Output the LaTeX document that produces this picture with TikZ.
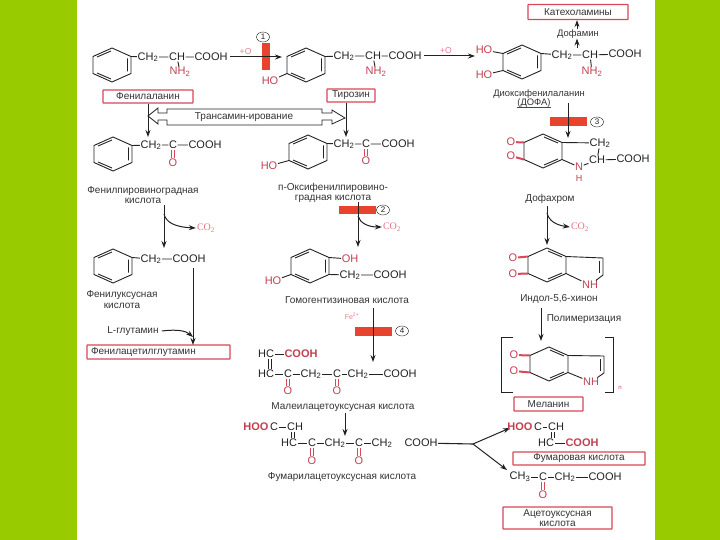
\documentclass[tikz,border=0pt]{standalone}
\usepackage{fontspec}
\setmainfont{Liberation Sans}
\newfontfamily\serifco{Liberation Serif}
\usepackage{xcolor}
\usetikzlibrary{arrows.meta, shapes.geometric}
\definecolor{ink}{HTML}{222222}
\definecolor{lbl}{HTML}{333333}
\definecolor{acc}{HTML}{D8485A}
\definecolor{rbar}{HTML}{E8432E}
\definecolor{leaf}{HTML}{99CC00}
\newcommand{\dblink}[3]{%
  \draw[#1] ([xshift=-1.3pt]#2) -- ([xshift=-1.3pt]#3) ([xshift=1.3pt]#2) -- ([xshift=1.3pt]#3);}
\tikzset{
  chem/.style={font=\fontsize{11}{12}\selectfont, inner sep=0.5pt, text=ink},
  rchem/.style={chem, text=acc!90!black},
  boldr/.style={rchem, font=\bfseries\fontsize{11}{12}\selectfont},
  lab/.style={font=\fontsize{10}{10.5}\selectfont, text=lbl, align=center, inner sep=0pt},
  pbox/.style={lab, draw=acc, line width=1.2pt, rounded corners=0.5pt},
  co/.style={font=\serifco\fontsize{10}{11}\selectfont, text=acc!75, inner sep=1pt},
  redbar/.style={fill=rbar, inner sep=0pt},
  num/.style={ellipse, draw=ink, font=\fontsize{8}{9}\selectfont, inner sep=0pt,
              minimum width=13pt, minimum height=10pt, text=ink},
  bond/.style={draw=ink, line width=0.9pt},
  obond/.style={draw=acc, line width=2pt},
  dbl/.style={draw=ink, line width=0.8pt},
  rdbl/.style={draw=acc, line width=1.1pt},
  arr/.style={draw=ink, line width=1pt, -{Stealth[length=7pt, width=5pt]}},
  benz/.pic={
    \coordinate (-t) at (0,-17); \coordinate (-ur) at (19,-8.5);
    \coordinate (-lr) at (19,8.5); \coordinate (-b) at (0,17);
    \coordinate (-ll) at (-19,8.5); \coordinate (-ul) at (-19,-8.5);
    \draw[bond] (-t) -- (-ur) -- (-lr) -- (-b) -- (-ll) -- (-ul) -- cycle;
    \draw[bond] (-15,-8) -- (-1,-14) (15.5,-6.5) -- (15.5,6.5) (-15,8) -- (-1,14);
  },
  quin/.pic={
    \coordinate (-t) at (0,-17); \coordinate (-ur) at (19,-8.5);
    \coordinate (-lr) at (19,8.5); \coordinate (-b) at (0,17);
    \coordinate (-ll) at (-19,8.5); \coordinate (-ul) at (-19,-8.5);
    \draw[bond] (-t) -- (-ur) -- (-lr) -- (-b) -- (-ll) -- (-ul) -- cycle;
    \draw[bond] (15,-8) -- (1,-14) (15,8) -- (1,14);
  },
}
\begin{document}
\begin{tikzpicture}[x=1pt, y=-1pt]
  \useasboundingbox (0,0) rectangle (720,540);
  \fill[leaf] (0,0) rectangle (720,540);
  \fill[white] (77,0) rectangle (655,540);

  % free ends of the arrows
  \foreach \n/\x/\y in {p1/230/57, p2/282/57, p3/424/56, p4/475/56, d0/577/48,
      t1/148/137, t2/346/103, t3/346/137, e1/164/205, e2/164/248, e3/164/214,
      f1/358/202, f2/358/247, f3/358/216, g1/373/308, g2/373/362, h1/345/413,
      h2/345/436, k0/473/444, k1/510/428, k2/507/470, m1/568/103, m2/568/138,
      n1/547/206, n2/547/245, n3/547/213, q1/541/308, q2/541/341, u1/193/268,
      u2/193/345, u3/193/337, j12/293/432, j13/293/438, l6/553/432, l7/553/438,
      i11/270/359, i12/270/369}
    \coordinate (\n) at (\x,\y);

  % red bars and numbers
  \node[redbar, minimum width=8pt, minimum height=27pt] (bar1) at (266,57) {};
  \node[redbar, minimum width=37pt, minimum height=8pt] (bar2) at (357,210) {};
  \node[redbar, minimum width=37pt, minimum height=9pt] (bar3) at (568,122) {};
  \node[redbar, minimum width=37pt, minimum height=9pt] (bar4) at (373,331) {};
  \node[num] (n1c) at (263,37) {1};
  \node[num] (n2c) at (383,210) {2};
  \node[num] (n3c) at (597,122) {3};
  \node[num] (n4c) at (402,331) {4};

  % phenylalanine
  \pic (r1) at (112,65) {benz};
  \node[chem] (a1) at (148,57) {CH\textsubscript{2}};
  \node[chem] (a2) at (177,57) {CH};
  \node[chem] (a3) at (211,57) {COOH};
  \node[rchem] (a4) at (180,72) {NH\textsubscript{2}};
  \draw[bond] (r1-ur) -- (a1) -- (a2) -- (a3) (a2) -- (a4);
  \node[pbox, minimum width=90pt, minimum height=13pt] (phe) at (148,96.5) {Фенилаланин};
  \draw[arr] (p1) -- node[pos=0.3, above=2pt, lab, text=acc!70, font=\fontsize{8.6}{9}\selectfont] {+O} (p2);

  % tyrosine
  \pic (r2) at (306,65) {benz};
  \node[rchem] (b0) at (270,81) {HO};
  \node[chem] (b1) at (344,56) {CH\textsubscript{2}};
  \node[chem] (b2) at (373,56) {CH};
  \node[chem] (b3) at (405,56) {COOH};
  \node[rchem] (b4) at (376,72) {NH\textsubscript{2}};
  \draw[bond] (b0) -- (r2-ll) (r2-ur) -- (b1) -- (b2) -- (b3) (b2) -- (b4);
  \node[pbox, minimum width=48pt, minimum height=13pt] (tyr) at (351,95.5) {Тирозин};
  \draw[arr] (p3) -- node[pos=0.43, above=2pt, lab, text=acc!70, font=\fontsize{8.6}{9}\selectfont] {+O} (p4);

  % dopa
  \pic (r3) at (522,62) {benz};
  \node[rchem] (c0) at (484,50) {HO};
  \node[rchem] (c5) at (484,75) {HO};
  \node[chem] (c1) at (562,55) {CH\textsubscript{2}};
  \node[chem] (c2) at (590,55) {CH};
  \node[chem] (c3) at (625,54) {COOH};
  \node[rchem] (c4) at (592,72) {NH\textsubscript{2}};
  \draw[bond] (c0) -- (r3-ul) (c5) -- (r3-ll) (r3-ur) -- (c1) -- (c2) -- (c3) (c2) -- (c4);
  \node[lab, font=\fontsize{9.4}{10}\selectfont] (dopa) at (539,94) {Диоксифенилаланин};
  \node[lab, font=\fontsize{9.4}{10}\selectfont] (dopb) at (534,103) {(ДОФА)};
  \draw[draw=acc!60!black, line width=0.6pt] (dopb.south west) -- (dopb.south east);
  \node[lab, font=\fontsize{9.4}{10}\selectfont] (dfm) at (578,34) {Дофамин};
  \node[pbox, minimum width=100pt, minimum height=15pt] (kat) at (578,12) {Катехоламины};
  \draw[arr] (d0) -- (d0 |- dfm.south);
  \draw[arr] (d0 |- dfm.north) -- (d0 |- kat.south);

  % transamination block arrow
  \draw[draw=ink, line width=0.8pt, fill=white] (148,116) -- (158,108) -- (158,113) -- (167,113)
    -- (167,109) -- (322,109) -- (322,113) -- (332,113) -- (332,110) -- (345,118)
    -- (332,124) -- (332,120) -- (322,120) -- (322,125) -- (167,125) -- (167,120)
    -- (158,120) -- (158,124) -- cycle;
  \node[lab] (trans) at (244,117) {Трансамин-ирование};
  \draw[arr] (phe.south) -- (t1);
  \draw[arr] (t2) -- (t3);

  % phenylpyruvate
  \pic (r4) at (113,154) {benz};
  \node[chem] (d1) at (151,145) {CH\textsubscript{2}};
  \node[chem] (d2) at (173,145) {C};
  \node[chem] (d3) at (205,145) {COOH};
  \node[rchem] (d4) at (173,163) {O};
  \draw[bond] (r4-ur) -- (d1) -- (d2) -- (d3);
  \dblink{rdbl}{d2.south}{d4.north}
  \node[lab] (ppk) at (143,195) {Фенилпировиноградная\\кислота};

  % hydroxyphenylpyruvate
  \pic (r5) at (308,152) {benz};
  \node[rchem] (e0) at (269,166) {HO};
  \node[chem] (e4a) at (344,144) {CH\textsubscript{2}};
  \node[chem] (e5a) at (366,144) {C};
  \node[chem] (e6a) at (398,144) {COOH};
  \node[rchem] (e7a) at (366,161) {O};
  \draw[bond] (e0) -- (r5-ll) (r5-ur) -- (e4a) -- (e5a) -- (e6a);
  \dblink{rdbl}{e5a.south}{e7a.north}
  \node[lab] (hppk) at (333,193) {п-Оксифенилпировино-\\градная кислота};

  % phenylacetate
  \draw[arr] (e1) -- (e2);
  \node[co] (co1) at (206,228) {CO\textsubscript{2}};
  \draw[arr] (e3) .. controls (166,222) and (174,227) .. (co1.west);
  \pic (r6) at (113,266) {benz};
  \node[chem] (g1a) at (151,259) {CH\textsubscript{2}};
  \node[chem] (g2a) at (189,259) {COOH};
  \draw[bond] (r6-ur) -- (g1a) -- (g2a);
  \node[lab] (pac) at (122,299.5) {Фенилуксусная\\кислота};
  \node[lab] (glu) at (133,331) {L-глутамин};
  \node[pbox, text width=135pt, align=left, minimum height=14pt, inner sep=4pt,
        inner ysep=1pt] (pag) at (158.5,352) {Фенилацетилглутамин};
  \draw[arr] (u1) -- (u2);
  \draw[arr] (glu.east) ++(3,0) .. controls (178,329) and (186,331) .. (u3);

  % homogentisate
  \draw[arr] (f1) -- (f2);
  \node[co] (co2) at (392,227) {CO\textsubscript{2}};
  \draw[arr] (f3) .. controls (360,223) and (368,227) .. (co2.west);
  \pic (r7) at (310,266) {benz};
  \node[rchem] (h0) at (273,281) {HO};
  \node[rchem] (h3) at (350,259) {OH};
  \node[chem] (h4) at (350,275) {CH\textsubscript{2}};
  \node[chem] (h5) at (390,275) {COOH};
  \draw[bond] (h0) -- (r7-ll) (r7-ur) -- (h3) (r7-lr) -- (h4) -- (h5);
  \node[lab] (hga) at (347,300) {Гомогентизиновая кислота};
  \node[lab, text=acc!70, font=\fontsize{7}{8}\selectfont] (fe) at (352,316) {Fe\textsuperscript{2+}};
  \draw[arr] (g1) -- (g2);

  % maleylacetoacetate
  \node[chem] (i1) at (266,354) {HC};
  \node[boldr] (i2) at (301,354) {COOH};
  \node[chem] (i3) at (266,374) {HC};
  \node[chem] (i4) at (288,374) {C};
  \node[chem] (i5) at (311,374) {CH\textsubscript{2}};
  \node[chem] (i6) at (337,374) {C};
  \node[chem] (i7) at (358,374) {CH\textsubscript{2}};
  \node[chem] (i8) at (400,374) {COOH};
  \node[rchem] (i9) at (288,391) {O};
  \node[rchem] (i10) at (337,391) {O};
  \draw[bond] (i1) -- (i2) (i3) -- (i4) -- (i5) -- (i6) -- (i7) -- (i8);
  \dblink{dbl}{i11}{i12}
  \dblink{rdbl}{i4.south}{i9.north}
  \dblink{rdbl}{i6.south}{i10.north}
  \node[lab] (maa) at (343,407) {Малеилацетоуксусная кислота};
  \draw[arr] (h1) -- (h2);

  % fumarylacetoacetate
  \node[boldr] (j1) at (256,427) {HOO};
  \node[chem] (j2) at (274,427) {C};
  \node[chem] (j3) at (295,427) {CH};
  \node[chem] (j4) at (289,443) {HC};
  \node[chem] (j5) at (312,443) {C};
  \node[chem] (j6) at (335,443) {CH\textsubscript{2}};
  \node[chem] (j7) at (359,443) {C};
  \node[chem] (j8) at (382,443) {CH\textsubscript{2}};
  \node[chem] (j9) at (421,443) {COOH};
  \node[rchem] (j10) at (312,461) {O};
  \node[rchem] (j11) at (359,461) {O};
  \draw[bond] (j2) -- (j3) (j4) -- (j5) -- (j6) -- (j7) -- (j8);
  \dblink{dbl}{j12}{j13}
  \dblink{rdbl}{j5.south}{j10.north}
  \dblink{rdbl}{j7.south}{j11.north}
  \node[lab] (faa) at (342,477) {Фумарилацетоуксусная кислота};
  \draw[draw=ink, line width=1.1pt] (j9) -- (k0);
  \draw[arr] (k0) -- (k1);
  \draw[arr] (k0) -- (k2);

  % fumarate
  \node[boldr] (l1) at (520,427) {HOO};
  \node[chem] (l2) at (538,427) {C};
  \node[chem] (l3) at (556,427) {CH};
  \node[chem] (l4) at (546,443) {HC};
  \node[boldr] (l5) at (582,443) {COOH};
  \draw[bond] (l2) -- (l3) (l4) -- (l5);
  \dblink{dbl}{l6}{l7}
  \node[pbox, minimum width=132pt, minimum height=13pt] (fum) at (579,458.5) {Фумаровая кислота};

  % acetoacetate
  \node[chem] (o1) at (520,477) {CH\textsubscript{3}};
  \node[chem] (o2) at (543,477) {C};
  \node[chem] (o3) at (565,477) {CH\textsubscript{2}};
  \node[chem] (o4) at (605,477) {COOH};
  \node[rchem] (o5) at (543,495) {O};
  \draw[bond] (o1) -- (o2) -- (o3) -- (o4);
  \dblink{rdbl}{o2.south}{o5.north}
  \node[pbox, minimum width=109pt, minimum height=22pt] (aca) at (557.5,518) {Ацетоуксусная\\кислота};

  % dopachrome
  \draw[arr] (m1) -- (m2);
  \pic (r8) at (543,151) {quin};
  \node[rchem] (s1) at (511,142) {O};
  \node[rchem] (s2) at (511,156) {O};
  \node[chem] (s3) at (600,143) {CH\textsubscript{2}};
  \node[chem] (s4) at (597,160) {CH};
  \node[chem] (s5) at (633,159) {COOH};
  \node[rchem] (s6) at (579,167) {N};
  \node[rchem, font=\fontsize{9}{10}\selectfont] (s7) at (579,178) {H};
  \draw[obond] (s1) -- (r8-ul);
  \draw[obond] (s2) -- (r8-ll);
  \draw[bond] (r8-ur) -- (s3) -- (s4) -- (s5) (r8-lr) -- (s6) -- (s4);
  \node[lab] (dfx) at (550,199) {Дофахром};

  % indole-5,6-quinone
  \draw[arr] (n1) -- (n2);
  \node[co] (co3) at (580,227) {CO\textsubscript{2}};
  \draw[arr] (n3) .. controls (549,221) and (556,225) .. (co3.west);
  \pic (r9) at (547,265) {quin};
  \node[rchem] (v1) at (513,258) {O};
  \node[rchem] (v2) at (513,274) {O};
  \node[rchem] (v3) at (590,285) {NH};
  \coordinate (v4) at (603,258);
  \coordinate (v5) at (603,275);
  \draw[obond] (v1) -- (r9-ul);
  \draw[obond] (v2) -- (r9-ll);
  \draw[bond] (r9-ur) -- (v4) -- (v5) -- (v3) -- (r9-lr);
  \draw[bond] (599.5,261) -- (599.5,273);
  \node[lab] (ind) at (559,299) {Индол-5,6-хинон};
  \draw[arr] (q1) -- (q2);
  \node[lab] (pol) at (584,319) {Полимеризация};

  % melanin
  \draw[draw=ink, line width=0.9pt] (513,337) -- (501,337) -- (501,392) -- (513,392)
    (605,337) -- (613,337) -- (613,392) -- (605,392);
  \pic (r10) at (549,364) {quin};
  \node[rchem] (w1) at (514,355) {O};
  \node[rchem] (w2) at (514,371) {O};
  \node[rchem] (w3) at (591,382) {NH};
  \coordinate (w4) at (604,356);
  \coordinate (w5) at (604,373);
  \draw[obond] (w1) -- (r10-ul);
  \draw[obond] (w2) -- (r10-ll);
  \draw[bond] (r10-ur) -- (w4) -- (w5) -- (w3) -- (r10-lr);
  \draw[bond] (600.5,359) -- (600.5,371);
  \node[lab, text=acc, font=\fontsize{6}{7}\selectfont] (nn) at (620,388) {n};
  \node[pbox, minimum width=69pt, minimum height=14pt] (mel) at (548.5,404) {Меланин};
\end{tikzpicture}
\end{document}
